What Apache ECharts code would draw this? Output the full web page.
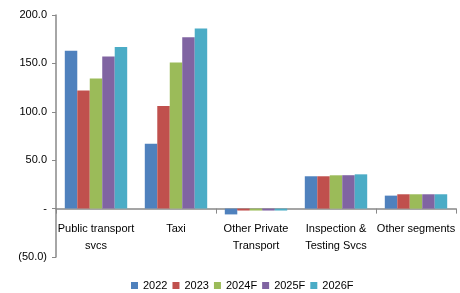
<!DOCTYPE html>
<html style="height: 100%">
<head>
    <meta charset="UTF-8">
    <title>Segments</title>
</head>
<body style="height: 100%; margin: 0; background: #fff">
<div id="container" style="width: 460px; height: 293px"></div>

<script type="text/javascript" src="https://cdn.jsdelivr.net/npm/echarts@6/dist/echarts.min.js"></script>
<script type="text/javascript">
    var categories = ['Public transport\nsvcs', 'Taxi', 'Other Private\nTransport', 'Inspection &\nTesting Svcs', 'Other segments'];
    var years = ['2022', '2023', '2024F', '2025F', '2026F'];
    var colors = ['#4F81BD', '#C0504D', '#9BBB59', '#8064A2', '#4BACC6'];

    var v2022 = [163, 67, -6, 33.4, 13.4];
    var v2023 = [122, 106, -2, 33.4, 14.8];
    var v2024 = [134.5, 151, -2, 34.4, 14.8];
    var v2025 = [157, 177, -2, 34.5, 14.8];
    var v2026 = [167, 186, -2, 35.4, 14.8];
    var allValues = [v2022, v2023, v2024, v2025, v2026];

    var font = '"Liberation Sans Narrow", "Liberation Sans", sans-serif';

    var dom = document.getElementById('container');
    var myChart = echarts.init(dom);

    var series = years.map(function (y, i) {
        return {
            name: y,
            type: 'bar',
            data: allValues[i],
            barGap: '0%',
            barCategoryGap: '22%',
            itemStyle: {color: colors[i]}
        };
    });

    var option = {
        animation: false,
        textStyle: {fontFamily: font},
        grid: {left: 56, right: 4, top: 15, bottom: 36, containLabel: false, outerBoundsMode: 'none'},
        legend: {
            data: years,
            top: 275,
            left: 126,
            itemWidth: 7,
            itemHeight: 7,
            itemGap: 5,
            icon: 'rect',
            textStyle: {fontSize: 11, color: '#000', fontFamily: font}
        },
        xAxis: [{
            // line and ticks sitting on zero
            type: 'category',
            data: categories,
            axisLine: {onZero: true, lineStyle: {color: '#888', width: 1.5}},
            axisTick: {show: true, length: 5, lineStyle: {color: '#888'}},
            axisLabel: {show: false}
        }, {
            // labels only, pulled up under the zero line
            type: 'category',
            data: categories,
            position: 'bottom',
            offset: 0,
            axisLine: {show: false, onZero: false},
            axisTick: {show: false},
            axisLabel: {
                interval: 0,
                color: '#000',
                fontSize: 11,
                fontFamily: font,
                lineHeight: 17,
                verticalAlign: 'top',
                margin: -37
            }
        }],
        yAxis: {
            type: 'value',
            min: -50,
            max: 200,
            interval: 50,
            splitLine: {show: false},
            axisLine: {show: true, lineStyle: {color: '#888', width: 1.5}},
            axisTick: {show: true, inside: false, length: 4, lineStyle: {color: '#888'}},
            axisLabel: {
                color: '#000',
                fontSize: 11,
                fontFamily: font,
                margin: 9,
                formatter: function (v) {
                    if (v === 0) return '-';
                    if (v < 0) return '(' + Math.abs(v).toFixed(1) + ')';
                    return v.toFixed(1);
                }
            }
        },
        series: series
    };

    myChart.setOption(option);
</script>
</body>
</html>
